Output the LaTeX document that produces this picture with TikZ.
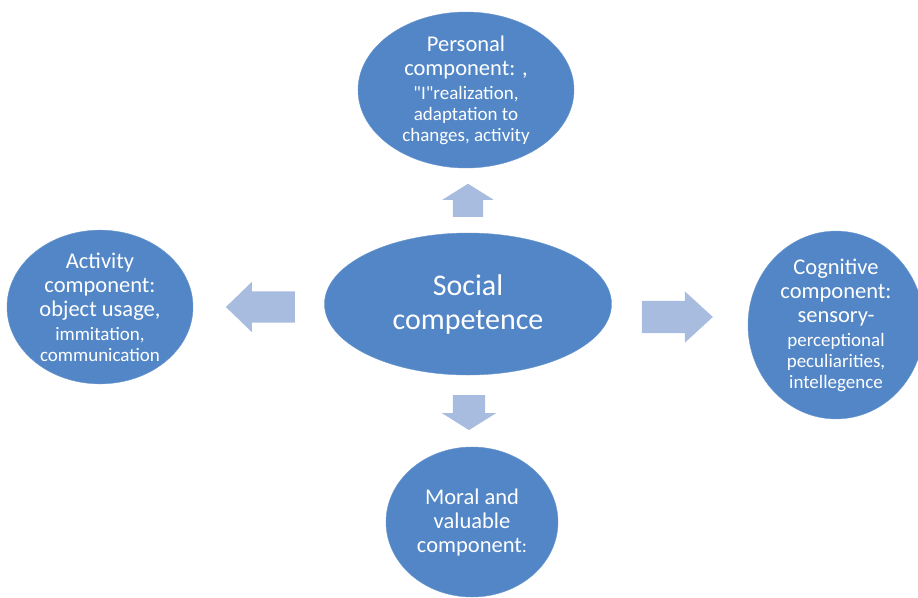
\documentclass[tikz,border=0pt]{standalone}
\usepackage{fontspec}
\setmainfont{Carlito}[Ligatures=TeXOff]
\usetikzlibrary{positioning}
\usetikzlibrary{shapes.geometric}
\usetikzlibrary{shapes.arrows}
\definecolor{compblue}{RGB}{82,134,198}
\definecolor{arrowblue}{RGB}{168,188,223}
\newcommand{\bigline}{\fontsize{22.5}{24}\selectfont}

\begin{document}
\begin{tikzpicture}[
    x=1pt, y=-1pt,
    comp/.style={
        draw=compblue!85!white, fill=compblue, ellipse,
        inner sep=0pt, text=white, align=center,
        font=\fontsize{19}{21}\selectfont
    },
    blockarrow/.style={
        single arrow, fill=arrowblue, inner sep=0pt,
        text width=0pt, text height=#1, text depth=#1
    }
]
\useasboundingbox (0,0) rectangle (918,597);

\node[comp, minimum width=287pt, minimum height=142pt,
      font=\fontsize{30}{34}\selectfont] (hub) at (468,304) {Social\\competence};

\node[comp, minimum width=216pt, minimum height=156pt] (pers) at (466,90)
    {{\bigline Personal}\\[3pt]{\bigline component: ,}\\[3pt]"I"realization,\\adaptation to\\changes, activity};
\node[comp, minimum width=186pt, minimum height=150pt] (act) at (100,307)
    {{\bigline Activity}\\[3pt]{\bigline component:}\\[3pt]{\bigline object usage,}\\[3pt]immitation,\\communication};
\node[comp, minimum width=176pt, minimum height=150pt] (cog) at (836,325)
    {{\bigline Cognitive}\\[3pt]{\bigline component:}\\[3pt]{\bigline sensory-}\\[3pt]perceptional\\peculiarities,\\intellegence};
\node[comp, minimum width=172pt, minimum height=150pt] (moral) at (472,522)
    {{\bigline Moral and}\\[3pt]{\bigline valuable}\\[3pt]{\bigline component}:};

% block arrows around the hub
\node[blockarrow=15pt, minimum height=33pt, rotate=90,
      single arrow head extend=10.5pt, single arrow tip angle=116] (toPers) at (468,205) {};
\node[blockarrow=15.5pt, minimum height=69pt, rotate=180,
      single arrow head extend=9.5pt, single arrow tip angle=88] (toAct) at (268.5,307) {};
\node[blockarrow=16pt, minimum height=71pt,
      single arrow head extend=9.5pt, single arrow tip angle=85] (toCog) at (668.5,317) {};
\node[blockarrow=16pt, minimum height=35pt, rotate=270,
      single arrow head extend=11pt, single arrow tip angle=116] (toMoral) at (469,407.5) {};
\end{tikzpicture}
\end{document}
